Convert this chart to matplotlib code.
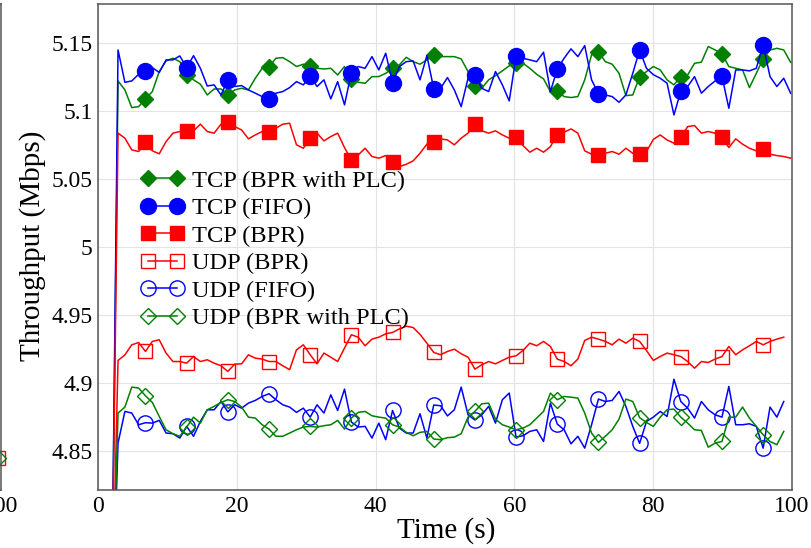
import numpy as np
import matplotlib
matplotlib.use("Agg")
import matplotlib.pyplot as plt
from matplotlib.lines import Line2D

plt.rcParams['font.family'] = ['Liberation Serif', 'DejaVu Serif']

# ---------------- data ----------------
T_START = 2.887      # time of first sample (s)
T_STEP = 0.9889      # sampling interval (s)
LEAD_VALUE = 4.70    # value of the sample before the flows start

tcp_bpr_plc = [5.1224, 5.1158, 5.1028, 5.1035, 5.1092, 5.1146, 5.1293, 5.1371, 5.1391, 5.1366,
               5.1268, 5.1232, 5.1200, 5.1121, 5.1165, 5.1165, 5.1121, 5.1158, 5.1170, 5.1158,
               5.1244, 5.1317, 5.1328, 5.1391, 5.1396, 5.1366, 5.1330, 5.1347, 5.1335, 5.1317,
               5.1312, 5.1317, 5.1268, 5.1330, 5.1239, 5.1214, 5.1207, 5.1256, 5.1256, 5.1280,
               5.1317, 5.1342, 5.1398, 5.1366, 5.1347, 5.1379, 5.1412, 5.1403, 5.1403, 5.1403,
               5.1386, 5.1293, 5.1188, 5.1170, 5.1232, 5.1263, 5.1298, 5.1335, 5.1355, 5.1354,
               5.1317, 5.1273, 5.1239, 5.1146, 5.1150, 5.1109, 5.1102, 5.1109, 5.1232, 5.1416,
               5.1438, 5.1366, 5.1347, 5.1280, 5.1116, 5.1121, 5.1256, 5.1293, 5.1330, 5.1305,
               5.1232, 5.1195, 5.1256, 5.1268, 5.1354, 5.1362, 5.1477, 5.1452, 5.1424, 5.1330,
               5.1317, 5.1305, 5.1175, 5.1280, 5.1387, 5.1452, 5.1464, 5.1452, 5.1361]

tcp_fifo = [5.1452, 5.1214, 5.1224, 5.1273, 5.1300, 5.1322, 5.1286, 5.1379, 5.1379, 5.1408,
            5.1322, 5.1410, 5.1317, 5.1187, 5.1195, 5.1121, 5.1230, 5.1183, 5.1190, 5.1158,
            5.1134, 5.1109, 5.1090, 5.1134, 5.1146, 5.1175, 5.1219, 5.1195, 5.1260, 5.1183,
            5.1232, 5.1092, 5.1219, 5.1048, 5.1285, 5.1330, 5.1317, 5.1403, 5.1305, 5.1428,
            5.1212, 5.1330, 5.1366, 5.1371, 5.1232, 5.1410, 5.1167, 5.1170, 5.1249, 5.1158,
            5.1035, 5.1244, 5.1270, 5.1170, 5.1146, 5.1293, 5.1195, 5.1077, 5.1405, 5.1391,
            5.1379, 5.1366, 5.1435, 5.1146, 5.1310, 5.1391, 5.1460, 5.1403, 5.1484, 5.1232,
            5.1130, 5.1121, 5.1109, 5.1067, 5.1121, 5.1280, 5.1452, 5.1317, 5.1270, 5.1244,
            5.1207, 5.0974, 5.1148, 5.1183, 5.1256, 5.1134, 5.1183, 5.1224, 5.1258, 5.1023,
            5.1305, 5.1305, 5.1298, 5.1317, 5.1490, 5.1256, 5.1183, 5.1244, 5.1134]

tcp_bpr = [5.0840, 5.0803, 5.0717, 5.0705, 5.0772, 5.0710, 5.0688, 5.0778, 5.0840, 5.0852,
           5.0854, 5.0857, 5.0906, 5.0852, 5.0840, 5.0906, 5.0920, 5.0888, 5.0864, 5.0798,
           5.0827, 5.0852, 5.0846, 5.0876, 5.0906, 5.0913, 5.0754, 5.0729, 5.0803, 5.0840,
           5.0783, 5.0815, 5.0840, 5.0734, 5.0640, 5.0680, 5.0729, 5.0668, 5.0656, 5.0675,
           5.0631, 5.0594, 5.0611, 5.0636, 5.0692, 5.0759, 5.0775, 5.0798, 5.0790, 5.0754,
           5.0803, 5.0840, 5.0910, 5.0857, 5.0840, 5.0857, 5.0827, 5.0803, 5.0809, 5.0749,
           5.0700, 5.0729, 5.0700, 5.0741, 5.0830, 5.0847, 5.0871, 5.0840, 5.0710, 5.0685,
           5.0678, 5.0692, 5.0705, 5.0685, 5.0729, 5.0692, 5.0686, 5.0705, 5.0794, 5.0827,
           5.0790, 5.0766, 5.0809, 5.0888, 5.0896, 5.0840, 5.0852, 5.0840, 5.0809, 5.0734,
           5.0798, 5.0759, 5.0729, 5.0710, 5.0726, 5.0685, 5.0675, 5.0668, 5.0656]

udp_bpr = [4.9168, 4.9209, 4.9283, 4.9300, 4.9234, 4.9308, 4.9320, 4.9222, 4.9160, 4.9160,
           4.9148, 4.9197, 4.9160, 4.9173, 4.9148, 4.9129, 4.9087, 4.9141, 4.9143, 4.9209,
           4.9185, 4.9178, 4.9160, 4.9160, 4.9129, 4.9100, 4.9246, 4.9283, 4.9210, 4.9143,
           4.9222, 4.9192, 4.9160, 4.9259, 4.9357, 4.9339, 4.9276, 4.9325, 4.9339, 4.9364,
           4.9374, 4.9400, 4.9420, 4.9410, 4.9360, 4.9295, 4.9227, 4.9210, 4.9234, 4.9251,
           4.9217, 4.9192, 4.9104, 4.9136, 4.9160, 4.9143, 4.9168, 4.9192, 4.9202, 4.9241,
           4.9295, 4.9276, 4.9308, 4.9271, 4.9178, 4.9160, 4.9129, 4.9178, 4.9315, 4.9339,
           4.9325, 4.9308, 4.9283, 4.9325, 4.9295, 4.9332, 4.9308, 4.9241, 4.9168, 4.9197,
           4.9222, 4.9210, 4.9197, 4.9160, 4.9111, 4.9160, 4.9153, 4.9178, 4.9197, 4.9271,
           4.9210, 4.9246, 4.9276, 4.9308, 4.9283, 4.9308, 4.9325, 4.9339]

udp_fifo = [4.8560, 4.8793, 4.8781, 4.8695, 4.8710, 4.8707, 4.8727, 4.8634, 4.8629, 4.8597,
            4.8683, 4.8610, 4.8720, 4.8805, 4.8805, 4.8866, 4.8790, 4.8842, 4.8817, 4.8854,
            4.8874, 4.8903, 4.8923, 4.8879, 4.8842, 4.8825, 4.8786, 4.8817, 4.8751, 4.8842,
            4.8781, 4.8915, 4.8800, 4.8957, 4.8715, 4.8678, 4.8683, 4.8597, 4.8707, 4.8585,
            4.8800, 4.8670, 4.8634, 4.8634, 4.8776, 4.8597, 4.8840, 4.8835, 4.8760, 4.8805,
            4.8972, 4.8768, 4.8730, 4.8768, 4.8830, 4.8707, 4.8879, 4.8928, 4.8604, 4.8614,
            4.8646, 4.8658, 4.8572, 4.8854, 4.8700, 4.8658, 4.8555, 4.8610, 4.8523, 4.8695,
            4.8884, 4.8866, 4.8874, 4.8940, 4.8830, 4.8683, 4.8558, 4.8719, 4.8751, 4.8793,
            4.8756, 4.9030, 4.8866, 4.8817, 4.8744, 4.8866, 4.8805, 4.8768, 4.8751, 4.8977,
            4.8695, 4.8695, 4.8702, 4.8683, 4.8523, 4.8825, 4.8751, 4.8866]

udp_bpr_plc = [4.8781, 4.8825, 4.8972, 4.8965, 4.8908, 4.8859, 4.8756, 4.8658, 4.8629, 4.8610,
               4.8678, 4.8751, 4.8707, 4.8805, 4.8830, 4.8859, 4.8879, 4.8866, 4.8825, 4.8751,
               4.8744, 4.8695, 4.8663, 4.8610, 4.8610, 4.8634, 4.8658, 4.8678, 4.8683, 4.8678,
               4.8688, 4.8695, 4.8727, 4.8663, 4.8744, 4.8786, 4.8793, 4.8761, 4.8751, 4.8744,
               4.8695, 4.8678, 4.8639, 4.8614, 4.8639, 4.8646, 4.8590, 4.8585, 4.8600, 4.8604,
               4.8629, 4.8751, 4.8793, 4.8849, 4.8854, 4.8736, 4.8695, 4.8678, 4.8658, 4.8670,
               4.8695, 4.8744, 4.8793, 4.8928, 4.8879, 4.8903, 4.8898, 4.8891, 4.8781, 4.8634,
               4.8565, 4.8610, 4.8658, 4.8736, 4.8884, 4.8866, 4.8747, 4.8712, 4.8683, 4.8751,
               4.8805, 4.8810, 4.8751, 4.8707, 4.8658, 4.8653, 4.8530, 4.8560, 4.8572, 4.8751,
               4.8751, 4.8825, 4.8744, 4.8683, 4.8621, 4.8572, 4.8548, 4.8646]

# neighbouring (cropped) panel on the left: only its last markers are visible
left_time = [99.6]
left_udp_bpr = [4.845]
left_udp_bpr_plc = [4.845]

x_ticks = [0, 20, 40, 60, 80, 100]
x_tick_labels = ['0', '20', '40', '60', '80', '100']
y_ticks = [4.85, 4.90, 4.95, 5.00, 5.05, 5.10, 5.15]
y_tick_labels = ['4.85', '4.9', '4.95', '5', '5.05', '5.1', '5.15']

labels = ['TCP (BPR with PLC)', 'TCP (FIFO)', 'TCP (BPR)',
          'UDP (BPR)', 'UDP (FIFO)', 'UDP (BPR with PLC)']


def with_lead(vals):
    v = np.array([LEAD_VALUE] + list(vals))
    t = T_START + T_STEP * np.arange(-1, len(vals))
    return t, v


# ---------------- figure ----------------
W, H = 811, 548
fig = plt.figure(figsize=(W / 100, H / 100), dpi=100)
ax = fig.add_axes([98 / W, 1 - 490 / H, 694 / W, 486 / H])
ax0 = fig.add_axes([(1 - 694) / W, 1 - 490 / H, 694 / W, 486 / H])

GREEN, BLUE, RED = '#008000', '#0000ff', '#ff0000'
SPINE = '#555555'
LW = 1.1
MARKEVERY = (5, 6)

styles = [
    dict(color=GREEN, marker='D', ms=8.5, mfc=GREEN, mec=GREEN, mew=1.0),
    dict(color=BLUE, marker='o', ms=11.5, mfc=BLUE, mec=BLUE, mew=1.0),
    dict(color=RED, marker='s', ms=10.5, mfc=RED, mec=RED, mew=1.0),
    dict(color=RED, marker='s', ms=10.0, mfc='none', mec=RED, mew=1.0),
    dict(color=BLUE, marker='o', ms=11.0, mfc='none', mec=BLUE, mew=1.0),
    dict(color=GREEN, marker='D', ms=8.5, mfc='none', mec=GREEN, mew=1.0),
]
series = [tcp_bpr_plc, tcp_fifo, tcp_bpr, udp_bpr, udp_fifo, udp_bpr_plc]

for vals, st in zip(series, styles):
    t, v = with_lead(vals)
    ax.plot(t, v, lw=LW, markevery=MARKEVERY, **st)

ax.set_xlim(0, 100)
ax.set_ylim(4.8215, 5.179)
ax.set_xticks(x_ticks)
ax.set_xticklabels(x_tick_labels)
ax.set_yticks(y_ticks)
ax.set_yticklabels(y_tick_labels)
ax.tick_params(axis='both', length=0, labelsize=17)
ax.tick_params(axis='x', pad=4)
ax.tick_params(axis='y', pad=4)
ax.grid(True, color='#e3e3e3', lw=0.8)
ax.set_axisbelow(True)
for s in ax.spines.values():
    s.set_color(SPINE)
    s.set_linewidth(1.1)

ax.set_xlabel('Time (s)', fontsize=21)
ax.xaxis.set_label_coords(0.501, -0.055)
ax.set_ylabel('Throughput (Mbps)', fontsize=21)
ax.yaxis.set_label_coords(-0.075, 0.503)

handles = [Line2D([], [], lw=LW, **st) for st in styles]
ax.legend(handles, labels, loc='upper left', bbox_to_anchor=(0.0617, 0.659),
          frameon=False, fontsize=17.6, numpoints=2, borderpad=0, borderaxespad=0,
          handlelength=1.8, handletextpad=0.28, labelspacing=0.22)

# left neighbouring panel (mostly outside the figure)
ax0.plot(left_time, left_udp_bpr, ls='none', clip_on=False, **styles[3])
ax0.plot(left_time, left_udp_bpr_plc, ls='none', clip_on=False, **styles[5])
ax0.set_xlim(0, 100)
ax0.set_ylim(4.8215, 5.179)
ax0.set_xticks([100])
ax0.set_xticklabels(['100'])
ax0.set_yticks([])
ax0.tick_params(axis='both', length=0, labelsize=17, pad=4)
for s in ax0.spines.values():
    s.set_color(SPINE)
    s.set_linewidth(1.1)

fig.savefig('out.png', dpi=100)
